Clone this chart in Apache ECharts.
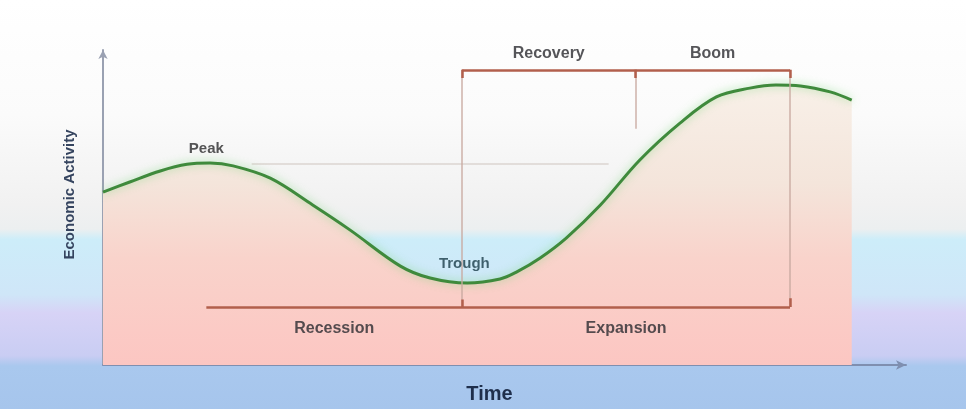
<!DOCTYPE html>
<html>
<head>
<meta charset="utf-8">
<script src="https://cdn.jsdelivr.net/npm/echarts@6/dist/echarts.min.js"></script>
<style>
  html, body { margin: 0; padding: 0; }
  #chart { width: 966px; height: 409px; }
</style>
</head>
<body>
<div id="chart"></div>
<script>
// Business cycle: activity level over time
const timeValues = [0, 3.6, 7.7, 11.3, 14.4, 17.5, 22.5, 28.2, 33.2, 40.0, 44.0, 49.0, 53.4, 55.6, 58.8, 62.3, 66.9, 72.2, 77.6, 82.5, 87.0, 90.5, 93.8, 97.8, 100.7];
const activityValues = [54.9, 58.1, 61.6, 63.7, 64.1, 63.2, 59.3, 50.8, 42.9, 31.4, 27.6, 26.0, 27.3, 29.5, 34.0, 40.3, 50.8, 65.1, 76.8, 85.1, 87.9, 88.9, 88.6, 86.7, 84.1];

// Phase boundaries on the time axis
const peakTime = 13.9;
const troughTime = 48.3;
const recoveryEnd = 71.6;
const boomEnd = 92.4;

// Bracket levels and label positions (activity units)
const topBracketLevel = 93.7;
const bottomBracketLevel = 18.4;
const phaseLabels = [
  { name: 'Recovery', x: (troughTime + recoveryEnd) / 2, y: 99 },
  { name: 'Boom', x: (recoveryEnd + boomEnd) / 2, y: 99 },
  { name: 'Recession', x: (peakTime + troughTime) / 2, y: 11.7 },
  { name: 'Expansion', x: (troughTime + boomEnd) / 2, y: 11.4 }
];
const pointLabels = [
  { name: 'Peak', x: 13.9, y: 68.6, color: '#2a2a2c' },
  { name: 'Trough', x: 48.6, y: 32.2, color: '#1a3c48' }
];

const curve = timeValues.map((t, i) => [t, activityValues[i]]);

const bracketColor = '#b25f4c';
const bracketSegments = [
  [[troughTime, topBracketLevel], [boomEnd, topBracketLevel]],
  [[troughTime, topBracketLevel], [troughTime, topBracketLevel - 2.6]],
  [[recoveryEnd, topBracketLevel], [recoveryEnd, topBracketLevel - 2.6]],
  [[boomEnd, topBracketLevel], [boomEnd, topBracketLevel - 2.6]],
  [[peakTime, bottomBracketLevel], [boomEnd, bottomBracketLevel]],
  [[troughTime, bottomBracketLevel], [troughTime, bottomBracketLevel + 2.4]],
  [[boomEnd, bottomBracketLevel], [boomEnd, bottomBracketLevel + 2.8]]
];
const guideSegments = [
  [[troughTime, topBracketLevel], [troughTime, bottomBracketLevel]],
  [[boomEnd, topBracketLevel], [boomEnd, bottomBracketLevel]],
  [[recoveryEnd, topBracketLevel], [recoveryEnd, 75]]
];
const faintSegments = [
  [[peakTime, 63.5], [peakTime, bottomBracketLevel]],
  [[20, 63.8], [68, 63.8]]
];

const chart = echarts.init(document.getElementById('chart'), null, { renderer: 'canvas' });

chart.setOption({
  animation: false,
  backgroundColor: new echarts.graphic.LinearGradient(0, 0, 0, 1, [
    { offset: 0, color: '#ffffff' },
    { offset: 0.28, color: '#fbfbfb' },
    { offset: 0.5, color: '#f1f1f1' },
    { offset: 0.56, color: '#eceff0' },
    { offset: 0.585, color: '#cdedf9' },
    { offset: 0.72, color: '#cfe6f8' },
    { offset: 0.765, color: '#d7d3f6' },
    { offset: 0.87, color: '#c9cdf3' },
    { offset: 0.895, color: '#a9c8ee' },
    { offset: 1, color: '#a6c5ec' }
  ]),
  grid: { left: 103, right: 60, top: 50, bottom: 44 },
  xAxis: {
    type: 'value', min: 0, max: 108,
    name: 'Time',
    nameLocation: 'middle',
    nameGap: 19,
    nameTextStyle: { fontFamily: 'Liberation Sans', fontWeight: 'bold', fontSize: 20, color: '#1f2f4c', padding: [0, 30, 0, 0] },
    axisLine: { lineStyle: { color: '#7f8fb0', width: 2 }, symbol: ['none', 'arrow'], symbolSize: [7, 10] },
    axisTick: { show: false }, axisLabel: { show: false }, splitLine: { show: false }
  },
  yAxis: {
    type: 'value', min: 0, max: 100,
    name: 'Economic Activity',
    nameLocation: 'middle',
    nameGap: 26,
    nameRotate: 90,
    nameTextStyle: { fontFamily: 'Liberation Sans', fontWeight: 'bold', fontSize: 15, color: '#35445f', padding: [0, 0, 0, 26] },
    axisLine: { lineStyle: { color: '#9aa1b2', width: 2 }, symbol: ['none', 'arrow'], symbolSize: [7, 9] },
    axisTick: { show: false }, axisLabel: { show: false }, splitLine: { show: false }
  },
  series: [
    {
      type: 'line',
      data: curve,
      smooth: 0.35,
      symbol: 'none',
      lineStyle: { color: '#3f8a3c', width: 3, shadowColor: 'rgba(120,215,120,0.7)', shadowBlur: 8 },
      areaStyle: {
        origin: 'start',
        opacity: 1,
        color: new echarts.graphic.LinearGradient(0, 0, 0, 1, [
          { offset: 0, color: '#f8f0e8' },
          { offset: 0.35, color: '#f4e5db' },
          { offset: 0.62, color: '#f9d3cb' },
          { offset: 1, color: '#fcc6c2' }
        ])
      },
      z: 3
    },
    {
      type: 'lines',
      coordinateSystem: 'cartesian2d',
      data: faintSegments.map(c => ({ coords: c })),
      lineStyle: { color: '#d8d0cc', width: 1.5, opacity: 0.9 },
      z: 2
    },
    {
      type: 'lines',
      coordinateSystem: 'cartesian2d',
      data: guideSegments.map(c => ({ coords: c })),
      lineStyle: { color: '#c9a9a0', width: 1.5, opacity: 0.9 },
      z: 4
    },
    {
      type: 'lines',
      coordinateSystem: 'cartesian2d',
      data: bracketSegments.map(c => ({ coords: c })),
      lineStyle: { color: bracketColor, width: 2.5, opacity: 1 },
      z: 5
    },
    {
      type: 'scatter',
      data: phaseLabels.map(p => ({ value: [p.x, p.y], name: p.name })),
      symbolSize: 1,
      itemStyle: { color: 'rgba(0,0,0,0)' },
      label: {
        show: true, position: 'inside', formatter: '{b}',
        fontFamily: 'Liberation Sans', fontWeight: 'bold', fontSize: 16, color: '#2b2b30'
      },
      z: 6
    },
    {
      type: 'scatter',
      data: pointLabels.map(p => ({ value: [p.x, p.y], name: p.name, label: { color: p.color } })),
      symbolSize: 1,
      itemStyle: { color: 'rgba(0,0,0,0)' },
      label: {
        show: true, position: 'inside', formatter: '{b}',
        fontFamily: 'Liberation Sans', fontWeight: 'bold', fontSize: 15
      },
      z: 6
    }
  ]
});
</script>
</body>
</html>
